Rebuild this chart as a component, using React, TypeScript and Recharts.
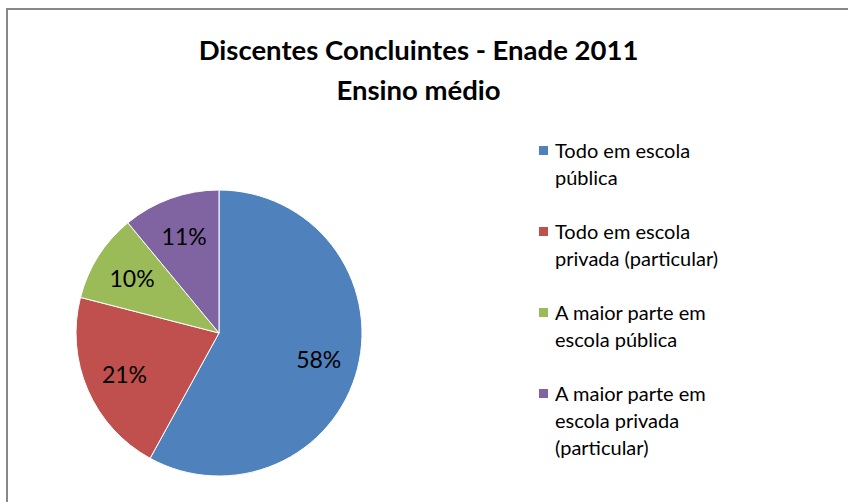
import React from "react";
import { PieChart, Pie, Cell, Legend } from "recharts";

const titleLines = ["Discentes Concluintes - Enade 2011", "Ensino médio"];
const categories = [
  "Todo em escola pública",
  "Todo em escola privada (particular)",
  "A maior parte em escola pública",
  "A maior parte em escola privada (particular)",
];
const values = [58, 21, 10, 11];
const colors = ["#4F81BD", "#C0504D", "#9BBB59", "#8064A2"];

const data = categories.map((name, i) => ({ name, value: values[i] }));
const total = values.reduce((a, b) => a + b, 0);
const FONT = "Lato, 'Open Sans', sans-serif";
const RAD = Math.PI / 180;

const renderLabel = (props: any) => {
  const { cx, cy, midAngle, outerRadius, value } = props;
  const r = outerRadius * 0.72;
  const x = cx + r * Math.cos(-midAngle * RAD);
  const y = cy + r * Math.sin(-midAngle * RAD);
  return (
    <text
      x={x}
      y={y}
      fill="#000"
      fontSize={23}
      fontFamily={FONT}
      textAnchor="middle"
      dominantBaseline="central"
    >
      {`${Math.round((value / total) * 100)}%`}
    </text>
  );
};

const renderLegend = () => (
  <div style={{ fontFamily: FONT, fontSize: 20, lineHeight: "27px", color: "#000" }}>
    {categories.map((name, i) => (
      <div key={name} style={{ display: "flex", alignItems: "flex-start", marginBottom: 27 }}>
        <div
          style={{
            width: 9,
            height: 9,
            background: colors[i],
            marginTop: 9,
            marginRight: 7,
            flex: "none",
          }}
        />
        <div style={{ width: 178, whiteSpace: "normal" }}>{name}</div>
      </div>
    ))}
  </div>
);

export default function App() {
  return (
    <div style={{ position: "absolute", left: 0, top: 0, width: 848, height: 502, overflow: "hidden", background: "#fff" }}>
      <div style={{ position: "absolute", left: 6, top: 8, width: 2, height: 600, background: "#888" }} />
      <div style={{ position: "absolute", left: 6, top: 8, width: 900, height: 2, background: "#888" }} />
      <div
        style={{
          position: "absolute",
          left: 0,
          top: 30,
          width: 837,
          textAlign: "center",
          fontFamily: FONT,
          fontWeight: 700,
          fontSize: 27.5,
          lineHeight: "40px",
          color: "#000",
        }}
      >
        {titleLines.map((t, i) => (
          <div key={i}>{t}</div>
        ))}
      </div>
      <div style={{ position: "absolute", left: 0, top: 0 }}>
        <PieChart width={848} height={502} margin={{ top: 0, right: 0, bottom: 0, left: 0 }}>
          <Pie
            data={data}
            dataKey="value"
            nameKey="name"
            cx={219}
            cy={333}
            outerRadius={143}
            startAngle={90}
            endAngle={-270}
            stroke="#fff"
            strokeWidth={1}
            label={renderLabel}
            labelLine={false}
            isAnimationActive={false}
          >
            {data.map((d, i) => (
              <Cell key={d.name} fill={colors[i]} />
            ))}
          </Pie>
          <Legend
            layout="vertical"
            align="right"
            verticalAlign="top"
            content={renderLegend}
            wrapperStyle={{ left: 539, top: 137, width: 200 }}
          />
        </PieChart>
      </div>
    </div>
  );
}
